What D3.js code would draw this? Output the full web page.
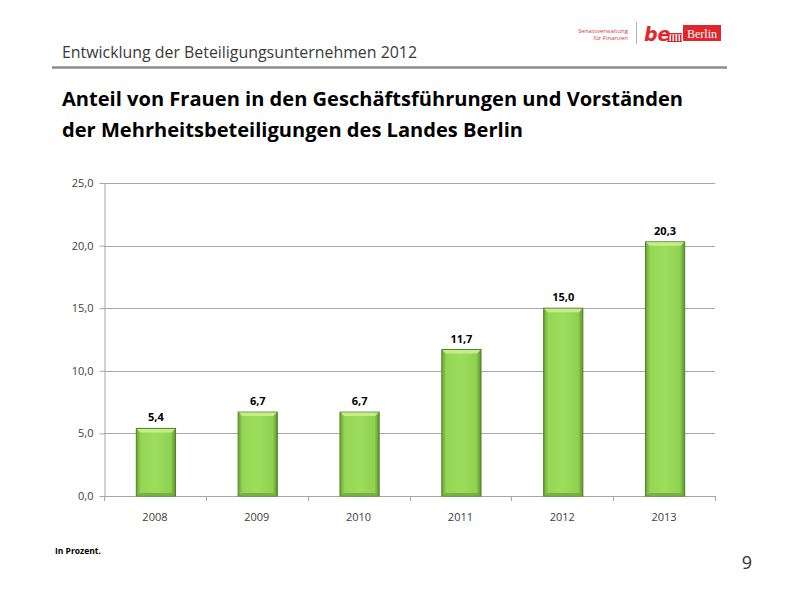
<!DOCTYPE html>
<html><head><meta charset="utf-8">
<script src="https://cdn.jsdelivr.net/npm/d3@7"></script>
<style>body{margin:0;background:#fff;}svg{display:block;}</style>
</head><body>
<svg id="c" width="800" height="600"></svg>
<script>
const years = ["2008","2009","2010","2011","2012","2013"];
const values = [5.4, 6.7, 6.7, 11.7, 15.0, 20.3];
const yTicks = [0, 5, 10, 15, 20, 25];
const headerText = "Entwicklung der Beteiligungsunternehmen 2012";
const titleLines = ["Anteil von Frauen in den Geschäftsführungen und Vorständen", "der Mehrheitsbeteiligungen des Landes Berlin"];
const noteText = "In Prozent.";
const pageNum = "9";

(function(){
const svg = d3.select("#c");
const font = "'Open Sans', 'DejaVu Sans', sans-serif";
const fmt = v => d3.format(".1f")(v).replace(".", ",");

const defs = svg.append("defs");
const hg = defs.append("linearGradient").attr("id","hg").attr("x1","0").attr("x2","1").attr("y1","0").attr("y2","0");
[["0%","#68a530"],["12%","#95d656"],["50%","#9edd5c"],["88%","#90d151"],["100%","#5a952a"]].forEach(s=>hg.append("stop").attr("offset",s[0]).attr("stop-color",s[1]));

// header
svg.append("text").attr("x",62).attr("y",58).attr("font-family",font).attr("font-size",16).attr("fill","#3a3a3a")
  .attr("textLength",355).attr("lengthAdjust","spacingAndGlyphs").text(headerText);
svg.append("line").attr("x1",52).attr("x2",727).attr("y1",67.5).attr("y2",67.5).attr("stroke","#8c8c8c").attr("stroke-width",2.5);

// logo
const lg = svg.append("g");
lg.append("text").attr("x",628).attr("y",33).attr("text-anchor","end").attr("font-family",font).attr("font-size",6).attr("fill","#d9383d").text("Senatsverwaltung");
lg.append("text").attr("x",628).attr("y",40).attr("text-anchor","end").attr("font-family",font).attr("font-size",6).attr("fill","#d9383d").text("für Finanzen");
lg.append("line").attr("x1",636.5).attr("x2",636.5).attr("y1",22).attr("y2",44).attr("stroke","#b0b0b0").attr("stroke-width",1);
lg.append("text").attr("x",644).attr("y",41).attr("font-family","'DejaVu Sans', sans-serif").attr("font-weight","bold").attr("font-style","italic").attr("font-size",19).attr("fill","#e0262c").text("be");
lg.append("rect").attr("x",667).attr("y",33).attr("width",15).attr("height",1.5).attr("fill","#e0262c");
[668,671,674,677,680].forEach(xx=>lg.append("rect").attr("x",xx).attr("y",35).attr("width",1.5).attr("height",6).attr("fill","#e0262c"));
lg.append("rect").attr("x",667).attr("y",41).attr("width",15).attr("height",1).attr("fill","#e0262c");
lg.append("rect").attr("x",683).attr("y",25).attr("width",38).attr("height",16).attr("fill","#e0262c");
lg.append("text").attr("x",702).attr("y",37.5).attr("text-anchor","middle").attr("font-family","'Liberation Serif', serif").attr("font-size",12).attr("fill","#fff").text("Berlin");

// title
titleLines.forEach((t,i)=>{
  svg.append("text").attr("x",62).attr("y",106 + i*31).attr("font-family","'Open Sans', sans-serif").attr("font-weight","bold").attr("font-size",20).attr("fill","#000")
    .attr("textLength", i===0 ? 621 : 461).attr("lengthAdjust","spacingAndGlyphs").text(t);
});

// chart
const pl = 104, pr = 715, pt = 183, pb = 496;
const x = d3.scaleBand().domain(years).range([pl, pr]).paddingInner(0.615).paddingOuter(0.3075);
const y = d3.scaleLinear().domain([0, 25]).range([pb, pt]);

svg.append("g").selectAll("line").data(yTicks).join("line")
  .attr("x1", pl).attr("x2", pr).attr("y1", d=>Math.round(y(d))+0.5).attr("y2", d=>Math.round(y(d))+0.5)
  .attr("stroke","#a6a6a6").attr("stroke-width",1);

const ya = svg.append("g").attr("transform",`translate(${pl+0.5},0)`)
  .call(d3.axisLeft(y).tickValues(yTicks).tickSize(5).tickSizeOuter(0).tickFormat(fmt));
ya.select(".domain").attr("stroke","#a6a6a6");
ya.selectAll(".tick line").attr("stroke","#a6a6a6");
ya.selectAll("text").attr("font-family",font).attr("font-size",11).attr("fill","#404040").attr("x",-11);

const step = (pr-pl)/years.length;
const xa = svg.append("g").attr("transform",`translate(0,${Math.round(pb)+0.5})`)
  .call(d3.axisBottom(x).tickSize(0).tickSizeOuter(0));
xa.select(".domain").remove();
xa.selectAll("text").attr("font-family",font).attr("font-size",11).attr("fill","#404040").attr("dy","0").attr("y",24);
svg.append("g").selectAll("line").data(d3.range(years.length+1)).join("line")
  .attr("x1", i=>Math.round(pl + i*step)+0.5).attr("x2", i=>Math.round(pl + i*step)+0.5)
  .attr("y1", pb).attr("y2", pb+5).attr("stroke","#a6a6a6");

const bars = svg.append("g").selectAll("g").data(years.map((d,i)=>({year:d, v:values[i]}))).join("g");
bars.append("rect")
  .attr("x", d=>x(d.year)+1).attr("y", d=>y(d.v)).attr("width", x.bandwidth()).attr("height", d=>pb - y(d.v))
  .attr("fill","url(#hg)").attr("stroke","#557f2a").attr("stroke-width",1);
bars.append("path")
  .attr("d", d=>{const x0=x(d.year)+1, w=x.bandwidth(), y0=y(d.v); return `M${x0+0.5},${y0+0.5}L${x0+w-0.5},${y0+0.5}L${x0+w-4},${y0+4}L${x0+4},${y0+4}Z`;})
  .attr("fill","#c4ee8a");
bars.append("path")
  .attr("d", d=>{const x0=x(d.year)+1, w=x.bandwidth(); return `M${x0+4},${pb-3}L${x0+w-4},${pb-3}L${x0+w-0.5},${pb-0.5}L${x0+0.5},${pb-0.5}Z`;})
  .attr("fill","#78b13f");
bars.append("text").attr("x", d=>x(d.year)+1+x.bandwidth()/2).attr("y", d=>y(d.v)-7)
  .attr("text-anchor","middle").attr("font-family",font).attr("font-weight","bold").attr("font-size",11).attr("fill","#000").text(d=>fmt(d.v));

svg.append("text").attr("x",55).attr("y",554).attr("font-family",font).attr("font-weight","bold").attr("font-size",8.5).attr("fill","#000").text(noteText);
svg.append("text").attr("x",752).attr("y",569).attr("text-anchor","end").attr("font-family",font).attr("font-size",18).attr("fill","#333").text(pageNum);
})();
</script>
</body></html>
